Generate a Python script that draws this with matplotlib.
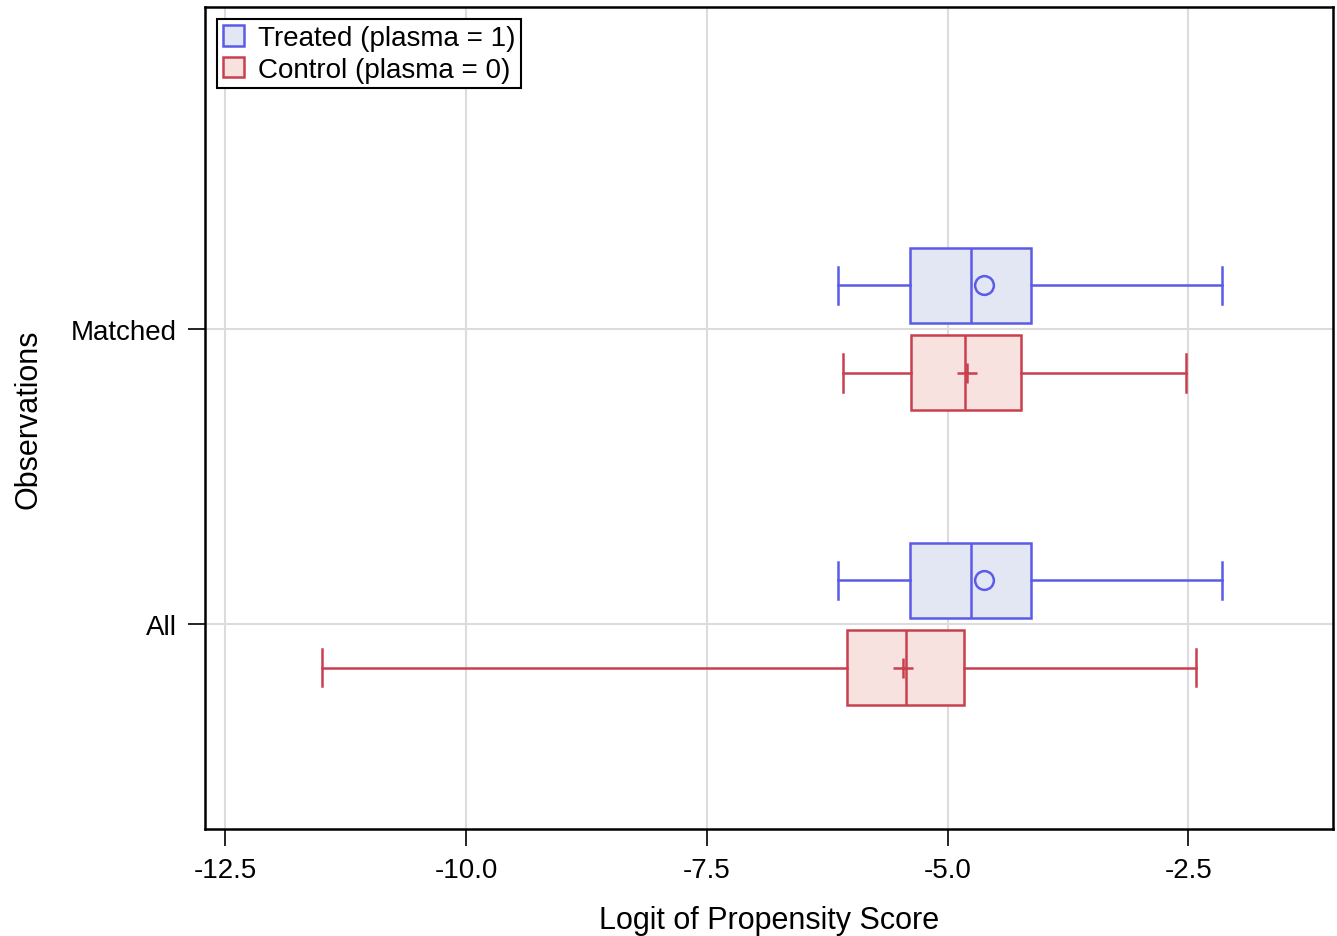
"""Box plots of the logit of propensity score, all vs matched observations."""

import matplotlib
matplotlib.use("Agg")
import matplotlib.pyplot as plt
from matplotlib.patches import Patch

plt.rcParams['font.family'] = ['Liberation Sans', 'DejaVu Sans']

# Data: (whislo, q1, median, q3, whishi, mean)
groups = ["All", "Matched"]
treated_stats = [
    (-6.14, -5.39, -4.76, -4.13, -2.15, -4.62),
    (-6.14, -5.39, -4.76, -4.13, -2.15, -4.62),
]
control_stats = [
    (-11.50, -6.05, -5.43, -4.83, -2.42, -5.46),
    (-6.09, -5.38, -4.82, -4.24, -2.53, -4.80),
]
legend_labels = ["Treated (plasma = 1)", "Control (plasma = 0)"]
x_ticks = [-12.5, -10.0, -7.5, -5.0, -2.5]

BLUE_EDGE = "#5b5be8"
BLUE_FILL = "#e3e7f4"
RED_EDGE = "#c8404f"
RED_FILL = "#f8e2df"


def to_bxp(rows):
    return [dict(whislo=r[0], q1=r[1], med=r[2], q3=r[3], whishi=r[4],
                 mean=r[5], fliers=[]) for r in rows]


fig = plt.figure(figsize=(13.37, 9.37), dpi=100)
ax = fig.add_axes([0.1533, 0.1142, 0.8437, 0.8773])

offset = 0.148
box_w = 0.255
series = [
    (treated_stats, +offset, BLUE_EDGE, BLUE_FILL, "o"),
    (control_stats, -offset, RED_EDGE, RED_FILL, "+"),
]
for stats, off, edge, fill, mk in series:
    pos = [i + off for i in range(len(groups))]
    line = dict(color=edge, linewidth=1.8)
    ax.bxp(
        to_bxp(stats), positions=pos, widths=box_w, capwidths=box_w / 2,
        orientation="horizontal", patch_artist=True, showmeans=True,
        showfliers=False,
        boxprops=dict(facecolor=fill, edgecolor=edge, linewidth=1.8),
        whiskerprops=line, capprops=line, medianprops=line,
        meanprops=dict(marker=mk, markerfacecolor="none",
                       markeredgecolor=edge, markersize=13.5 if mk == "o" else 14,
                       markeredgewidth=1.8),
        zorder=3,
    )

ax.set_xlim(-12.71, -1.0)
ax.set_ylim(-0.695, 2.092)
ax.set_xticks(x_ticks)
ax.set_xticklabels([f"{t:.1f}" for t in x_ticks])
ax.set_yticks(range(len(groups)))
ax.set_yticklabels(groups)
ax.grid(True, color="#dcdcdc", linewidth=1.5, zorder=0)
ax.set_axisbelow(True)

ax.tick_params(axis="both", direction="out", length=12, width=1.2,
               labelsize=20, pad=8)
for side in ["left", "bottom", "top", "right"]:
    ax.spines[side].set_linewidth(1.8)
    ax.spines[side].set_color("black")

ax.set_xlabel("Logit of Propensity Score", fontsize=22, labelpad=16)
ax.set_ylabel("Observations", fontsize=22, labelpad=20)

handles = [
    Patch(facecolor=BLUE_FILL, edgecolor=BLUE_EDGE, linewidth=1.8),
    Patch(facecolor=RED_FILL, edgecolor=RED_EDGE, linewidth=1.8),
]
leg = ax.legend(handles, legend_labels, loc="upper left", fontsize=20,
                fancybox=False, framealpha=1, edgecolor="black",
                handlelength=0.75, handleheight=0.75, handletextpad=0.5,
                borderpad=0.2, labelspacing=0.2, borderaxespad=0.45)
leg.get_frame().set_linewidth(1.5)

fig.savefig("out.png", dpi=100)
